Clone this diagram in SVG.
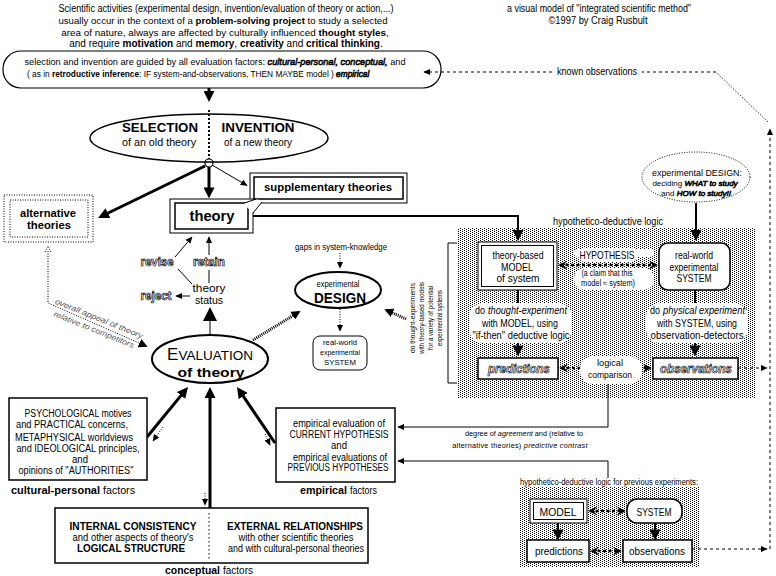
<svg xmlns="http://www.w3.org/2000/svg" width="776" height="576" viewBox="0 0 776 576">
<defs>
<pattern id="dots" width="4" height="2" patternUnits="userSpaceOnUse"><rect width="1" height="1" fill="#000"/><rect x="2" y="1" width="1" height="1" fill="#000"/></pattern>
<marker id="a" viewBox="0 0 10 10" refX="9" refY="5" markerWidth="7" markerHeight="7" markerUnits="userSpaceOnUse" orient="auto-start-reverse"><path d="M0,0.5 L10,5 L0,9.5 z"/></marker>
<marker id="am" viewBox="0 0 10 10" refX="8" refY="5" markerWidth="9" markerHeight="9" markerUnits="userSpaceOnUse" orient="auto-start-reverse"><path d="M0,0 L10,5 L0,10 z"/></marker>
<marker id="ab" viewBox="0 0 10 10" refX="6" refY="5" markerWidth="11" markerHeight="11" markerUnits="userSpaceOnUse" orient="auto-start-reverse"><path d="M0,0 L10,5 L0,10 z"/></marker>
<marker id="ax" viewBox="0 0 10 10" refX="6" refY="5" markerWidth="14" markerHeight="14" markerUnits="userSpaceOnUse" orient="auto"><path d="M0,0 L10,5 L0,10 z"/></marker>
<marker id="ac" viewBox="0 0 10 10" refX="8" refY="5" markerWidth="9" markerHeight="9" markerUnits="userSpaceOnUse" orient="auto-start-reverse"><path d="M0,0 L10,5 L0,10 L4,5 z"/></marker>
</defs>
<style>
text{font-family:"Liberation Sans",Arial,Helvetica,sans-serif;font-size:10px;text-anchor:middle;fill:#000}
.st{text-anchor:start}
.b{font-weight:bold}
.i{font-style:italic}
.o{fill:#fff;stroke:#000;stroke-width:0.7px}
.s8{font-size:8px}
.s9{font-size:9px}
.s105{font-size:10.5px}
.box{fill:#fff;stroke:#000;stroke-width:1.5}
.thin{fill:#fff;stroke:#000;stroke-width:1}
.ln{fill:none;stroke:#000;stroke-width:1}
.k2{fill:none;stroke:#000;stroke-width:2}
.k3{fill:none;stroke:#000;stroke-width:3}
.dash{fill:none;stroke:#000;stroke-width:1;stroke-dasharray:3 3}
.dot{fill:none;stroke:#000;stroke-width:1;stroke-dasharray:1 1.5}
.dd{fill:none;stroke:#000;stroke-width:2.5;stroke-dasharray:3 2.5}
.hatch{fill:none;stroke:#000;stroke-width:3;stroke-dasharray:1 1}
.blob{fill:#fff;stroke:none}
</style>
<rect width="776" height="576" fill="#fff"/>

<g id="intro-text">
<text x="226" y="12" textLength="335" lengthAdjust="spacingAndGlyphs">Scientific activities (experimental design, invention/evaluation of theory or action,...)</text>
<text x="223" y="24" style="font-size:9.6px">usually occur in the context of a <tspan class="b">problem-solving project</tspan> to study a selected</text>
<text x="225" y="36" style="font-size:9.9px">area of nature,  always are affected by culturally influenced <tspan class="b">thought styles</tspan>,</text>
<text x="226" y="47">and require <tspan class="b">motivation</tspan> and <tspan class="b">memory</tspan>, <tspan class="b">creativity</tspan> and <tspan class="b">critical thinking</tspan>.</text>
</g>

<g id="credit">
<text x="599" y="12" textLength="184" lengthAdjust="spacingAndGlyphs">a visual model of "integrated scientific method"</text>
<text x="598" y="24" textLength="99" lengthAdjust="spacingAndGlyphs">©1997 by Craig Rusbult</text>
</g>

<g id="hd-panel-bg">
<rect x="458" y="228" width="297" height="170" fill="url(#dots)" shape-rendering="crispEdges"/>
<rect x="520" y="487" width="180" height="80" fill="url(#dots)" shape-rendering="crispEdges"/>
</g>

<g id="connectors">
<line class="k3" x1="209" y1="88" x2="209" y2="97.6" marker-end="url(#ab)"/>
<line class="k3" x1="209" y1="167" x2="209" y2="194" marker-end="url(#ab)"/>
<line class="ln" stroke-width="1.5" x1="212" y1="165" x2="247" y2="185.5" marker-end="url(#a)"/>
<line class="k3" stroke-width="2.5" x1="205" y1="166" x2="102" y2="216" marker-end="url(#ab)"/>
<polyline class="k2" points="253,216 518,216 518,236.6" marker-end="url(#ab)"/>
<line class="k2" x1="696" y1="203" x2="696" y2="236.6" marker-end="url(#ab)"/>
<line class="ln" x1="175" y1="257" x2="192" y2="237" marker-end="url(#a)"/>
<line class="ln" x1="192" y1="284" x2="178" y2="269"/>
<line class="ln" x1="209" y1="270" x2="209" y2="283"/>
<line class="ln" x1="209" y1="255" x2="209" y2="237" marker-end="url(#a)"/>
<line class="ln" x1="190" y1="296" x2="176" y2="296" marker-end="url(#a)"/>
<line class="ln" stroke-width="4" x1="210" y1="336" x2="210" y2="312.6" marker-end="url(#ax)"/>
<polyline class="dot" points="48,251 48,303 146,346" marker-end="url(#am)"/>
<path class="dot" d="M45,252 L48,246 L51,252"/>
<line class="hatch" x1="253" y1="340" x2="299" y2="312" marker-end="url(#am)"/>
<line class="dot" stroke-width="1.5" x1="340" y1="253" x2="340" y2="268" marker-end="url(#a)"/>
<line class="dot" stroke-width="1.5" x1="340" y1="309" x2="340" y2="331" marker-end="url(#a)"/>
<line class="hatch" stroke-width="2" x1="406" y1="319" x2="386" y2="310" marker-end="url(#am)"/>
<line class="dd" x1="560" y1="265" x2="656" y2="265" marker-start="url(#ac)" marker-end="url(#ac)"/>
<line class="k2" x1="518" y1="290" x2="518" y2="352" marker-end="url(#ab)"/>
<line class="k2" x1="695" y1="290" x2="695" y2="352" marker-end="url(#ab)"/>
<line class="dd" x1="561" y1="368" x2="650" y2="368" marker-start="url(#ac)" marker-end="url(#ac)"/>
<line class="dash" x1="738" y1="368" x2="767" y2="368" marker-end="url(#a)"/>
<polyline class="ln" stroke-width="1.2" points="608,384 608,427 398,427" marker-end="url(#a)"/>
<polyline class="ln" stroke-width="1.2" points="608,478 608,461 398,461" marker-end="url(#a)"/>
<line class="dd" x1="590" y1="511" x2="624" y2="511" marker-start="url(#ac)" marker-end="url(#ac)"/>
<line class="k2" x1="558" y1="523" x2="558" y2="536" marker-end="url(#ab)"/>
<line class="k2" x1="655" y1="523" x2="655" y2="536" marker-end="url(#ab)"/>
<line class="dd" x1="592" y1="551" x2="620" y2="551" marker-start="url(#ac)" marker-end="url(#ac)"/>
<line class="dash" x1="692" y1="549" x2="767" y2="549" marker-end="url(#a)"/>
<line class="dash" x1="770" y1="549" x2="770" y2="129" marker-end="url(#a)"/>
<line class="dot" x1="768" y1="122" x2="716" y2="72"/>
<line class="dash" x1="716" y1="72" x2="642" y2="72"/>
<line class="dash" x1="552" y1="72" x2="424" y2="72" marker-end="url(#a)"/>
<text x="597" y="75" textLength="80" lengthAdjust="spacingAndGlyphs">known observations</text>
<line class="k3" stroke-width="2.5" x1="147" y1="437" x2="185.2" y2="390.4" marker-end="url(#ab)"/>
<line class="k3" stroke-width="2.5" x1="210" y1="508" x2="210" y2="391.4" marker-end="url(#ab)"/>
<line class="k3" stroke-width="2.5" x1="275" y1="443" x2="239.5" y2="390.6" marker-end="url(#ab)"/>
<line class="dot" x1="163" y1="427" x2="153" y2="441" marker-end="url(#a)"/>
<line class="dot" x1="205" y1="493" x2="205" y2="505" marker-end="url(#a)"/>
<line class="dot" x1="265" y1="434" x2="270" y2="445" marker-end="url(#a)"/>
<text class="s8 i" style="fill:#555" transform="translate(98,321) rotate(22)" textLength="94" lengthAdjust="spacingAndGlyphs">overall appeal of theory</text>
<text class="s8 i" style="fill:#555" transform="translate(93,332) rotate(22)" textLength="86" lengthAdjust="spacingAndGlyphs">relative to competitors</text>
<circle cx="209" cy="163" r="4" fill="#fff" stroke="#000" stroke-width="1.2"/>
</g>

<g id="guide-box">
<rect x="3" y="51" width="438" height="37" rx="18" fill="none" stroke="#000" stroke-width="1.2"/>
<text x="215" y="65" style="font-size:9.2px">selection and invention are guided by all evaluation factors:  <tspan class="i o">cultural-personal, conceptual,</tspan> and</text>
<text class="st" x="27" y="77" style="font-size:8.3px">( as in <tspan class="b">retroductive inference</tspan>:  IF system-and-observations, THEN MAYBE model )  <tspan class="i o">empirical</tspan></text>
</g>

<g id="selection-invention">
<ellipse cx="209" cy="138" rx="119" ry="24" fill="none" stroke="#000" stroke-width="1.5"/>
<line x1="209" y1="110" x2="209" y2="159" stroke="#000" stroke-width="2" stroke-dasharray="2 2"/>
<text class="b" style="font-size:13px" x="160" y="132" textLength="76" lengthAdjust="spacingAndGlyphs">SELECTION</text>
<text x="159" y="146" textLength="74" lengthAdjust="spacingAndGlyphs">of an old theory</text>
<text class="b" style="font-size:13px" x="258" y="132" textLength="73" lengthAdjust="spacingAndGlyphs">INVENTION</text>
<text x="258" y="146" textLength="68" lengthAdjust="spacingAndGlyphs">of a new theory</text>
</g>

<g id="supplementary-theories">
<rect x="250" y="173" width="157" height="30" class="thin"/>
<rect x="254" y="177" width="149" height="22" class="box"/>
<text class="b" x="328" y="191" textLength="128" lengthAdjust="spacingAndGlyphs">supplementary theories</text>
</g>

<g id="theory">
<rect x="170" y="199" width="83" height="34" class="thin"/>
<rect x="175" y="203" width="73" height="26" class="box"/>
<polygon points="243,203.5 257,199.5 262,202 253,213" fill="#fff"/>
<line class="ln" x1="243" y1="203.5" x2="256" y2="199"/>
<line class="ln" x1="253" y1="213" x2="262" y2="202"/>
<text class="b" style="font-size:15px" x="212" y="221" textLength="45" lengthAdjust="spacingAndGlyphs">theory</text>
</g>

<g id="alternative-theories">
<rect x="4" y="195" width="89" height="47" fill="#fff" stroke="#000" stroke-dasharray="1 1.5"/>
<rect x="10" y="200" width="78" height="37" fill="none" stroke="#000" stroke-dasharray="1 1.5"/>
<text class="b s105" x="48" y="217" textLength="56" lengthAdjust="spacingAndGlyphs">alternative</text>
<text class="b s105" x="49" y="229" textLength="44" lengthAdjust="spacingAndGlyphs">theories</text>
</g>

<g id="theory-status">
<text class="b o" style="font-size:12px" x="157" y="266" textLength="33" lengthAdjust="spacingAndGlyphs">revise</text>
<text class="b o" style="font-size:12px" x="209" y="266" textLength="32" lengthAdjust="spacingAndGlyphs">retain</text>
<text class="b o" style="font-size:12px" x="156" y="300" textLength="31" lengthAdjust="spacingAndGlyphs">reject</text>
<text class="s105" x="209" y="292" textLength="33" lengthAdjust="spacingAndGlyphs">theory</text>
<text class="s105" x="209" y="304" textLength="28" lengthAdjust="spacingAndGlyphs">status</text>
</g>

<g id="evaluation">
<ellipse cx="210" cy="359" rx="58" ry="24" fill="#fff" stroke="#000" stroke-width="2"/>
<text x="210" y="360"><tspan style="font-size:17px">E</tspan><tspan style="font-size:13.5px">VALUATION</tspan></text>
<text class="b" style="font-size:13px" x="211" y="377" textLength="67" lengthAdjust="spacingAndGlyphs">of theory</text>
</g>

<g id="gaps">
<text class="s9" x="341" y="250" textLength="92" lengthAdjust="spacingAndGlyphs">gaps in system-knowledge</text>
</g>

<g id="design">
<ellipse cx="338" cy="290" rx="43" ry="18" fill="#fff" stroke="#000" stroke-width="2"/>
<text class="s9" x="338" y="287" textLength="43" lengthAdjust="spacingAndGlyphs">experimental</text>
<text class="b" style="font-size:14px" x="340" y="303" textLength="52" lengthAdjust="spacingAndGlyphs">DESIGN</text>
</g>

<g id="design-system">
<rect x="313" y="336" width="54" height="34" rx="7" class="thin"/>
<text class="s8" x="340" y="345" textLength="34" lengthAdjust="spacingAndGlyphs">real-world</text>
<text class="s8" x="340" y="355" textLength="40" lengthAdjust="spacingAndGlyphs">experimental</text>
<text class="s8" x="340" y="365" textLength="32" lengthAdjust="spacingAndGlyphs">SYSTEM</text>
</g>

<g id="thought-experiments-label">
<text class="s8" transform="translate(415,318) rotate(-90)" textLength="70" lengthAdjust="spacingAndGlyphs">do thought-experiments</text>
<text class="s8" transform="translate(424,318) rotate(-90)" textLength="72" lengthAdjust="spacingAndGlyphs">with theory-based models</text>
<text class="s8" transform="translate(433,318) rotate(-90)" textLength="64" lengthAdjust="spacingAndGlyphs">for a variety of potential</text>
<text class="s8" transform="translate(442,318) rotate(-90)" textLength="56" lengthAdjust="spacingAndGlyphs">experimental systems</text>
<polyline class="ln" points="457,243 448,243 448,383 457,383"/>
</g>

<g id="design-cloud">
<ellipse cx="696" cy="177" rx="54" ry="25" fill="#fff" stroke="#000" stroke-dasharray="1 1.5"/>
<text class="s9" x="697" y="176" textLength="90" lengthAdjust="spacingAndGlyphs">experimental DESIGN:</text>
<text class="s8" x="695" y="186">deciding <tspan class="i o">WHAT to study</tspan></text>
<text class="s8" x="696" y="196">and <tspan class="i o">HOW to study!!</tspan></text>
</g>

<g id="hd-label">
<text x="608" y="225" textLength="110" lengthAdjust="spacingAndGlyphs">hypothetico-deductive logic</text>
</g>

<g id="model">
<rect x="478" y="242" width="79" height="48" class="thin"/>
<rect x="481.5" y="245.5" width="72" height="41" class="thin"/>
<text class="s105" x="518" y="259" textLength="51" lengthAdjust="spacingAndGlyphs">theory-based</text>
<text class="s105" x="517" y="271" textLength="32" lengthAdjust="spacingAndGlyphs">MODEL</text>
<text class="s105" x="518" y="282" textLength="43" lengthAdjust="spacingAndGlyphs">of system</text>
</g>

<g id="system">
<rect x="659" y="243" width="71" height="47" rx="9" class="box"/>
<text class="s105" x="694" y="259" textLength="38" lengthAdjust="spacingAndGlyphs">real-world</text>
<text class="s105" x="694" y="271" textLength="49" lengthAdjust="spacingAndGlyphs">experimental</text>
<text class="s105" x="694" y="282" textLength="35" lengthAdjust="spacingAndGlyphs">SYSTEM</text>
</g>

<g id="hypothesis">
<rect x="574" y="249" width="80" height="8" rx="4" class="blob"/>
<rect x="574" y="268" width="80" height="22" rx="10" class="blob"/>
<rect x="578" y="248" width="60" height="14" rx="7" class="blob"/>
<text class="s105" x="607" y="259" textLength="55" lengthAdjust="spacingAndGlyphs">HYPOTHESIS</text>
<text style="font-size:8.5px" x="607" y="276" textLength="51" lengthAdjust="spacingAndGlyphs">(a claim that this</text>
<text style="font-size:8.5px" x="608" y="286" textLength="54" lengthAdjust="spacingAndGlyphs">model ≈ system)</text>
</g>

<g id="thought-experiment">
<rect x="469" y="303" width="103" height="40" rx="14" class="blob"/>
<text class="s105 st" x="475" y="314" textLength="10" lengthAdjust="spacingAndGlyphs">do</text>
<text class="s105 st i" x="488" y="314" textLength="79" lengthAdjust="spacingAndGlyphs">thought-experiment</text>
<text class="s105" x="520" y="327" textLength="76" lengthAdjust="spacingAndGlyphs">with MODEL, using</text>
<text class="s105" x="521" y="339" textLength="97" lengthAdjust="spacingAndGlyphs">"if-then" deductive logic</text>
</g>

<g id="physical-experiment">
<rect x="646" y="303" width="102" height="40" rx="14" class="blob"/>
<text class="s105 st" x="650" y="314" textLength="10" lengthAdjust="spacingAndGlyphs">do</text>
<text class="s105 st i" x="663" y="314" textLength="82" lengthAdjust="spacingAndGlyphs">physical experiment</text>
<text class="s105" x="697" y="327" textLength="80" lengthAdjust="spacingAndGlyphs">with SYSTEM, using</text>
<text class="s105" x="697" y="339" textLength="93" lengthAdjust="spacingAndGlyphs">observation-detectors</text>
</g>

<g id="predictions">
<rect x="478" y="358" width="80" height="21" class="box"/>
<text class="b i o" style="font-size:13px" x="519" y="373" textLength="62" lengthAdjust="spacingAndGlyphs">predictions</text>
</g>

<g id="observations">
<rect x="653" y="358" width="85" height="21" class="box"/>
<text class="b i o" style="font-size:13px" x="696" y="373" textLength="72" lengthAdjust="spacingAndGlyphs">observations</text>
</g>

<g id="logical-comparison">
<rect x="580" y="356" width="62" height="28" rx="13" class="blob"/>
<text class="s9" x="610" y="366" textLength="26" lengthAdjust="spacingAndGlyphs">logical</text>
<text class="s9" x="610" y="378" textLength="44" lengthAdjust="spacingAndGlyphs">comparison</text>
</g>

<g id="agreement-label">
<text x="524" y="436" style="font-size:7.3px">degree of <tspan class="i">agreement</tspan> and (relative to</text>
<text x="520" y="448" style="font-size:7.3px;letter-spacing:0.25px">alternative theories) <tspan class="i">predictive contrast</tspan></text>
</g>

<g id="previous-experiments">
<text style="font-size:8.5px" x="609" y="485" textLength="178" lengthAdjust="spacingAndGlyphs">hypothetico-deductive logic for previous experiments:</text>
<rect x="530" y="499" width="57" height="24" class="thin"/>
<rect x="533.5" y="502.5" width="50" height="17" class="thin"/>
<text class="s105" x="558" y="516" textLength="37" lengthAdjust="spacingAndGlyphs">MODEL</text>
<rect x="627" y="499" width="55" height="24" rx="10" class="box"/>
<text class="s105" x="654" y="516" textLength="35" lengthAdjust="spacingAndGlyphs">SYSTEM</text>
<rect x="527" y="540" width="62" height="22" class="box"/>
<text class="s105" x="559" y="555" textLength="48" lengthAdjust="spacingAndGlyphs">predictions</text>
<rect x="623" y="540" width="69" height="22" class="box"/>
<text class="s105" x="657" y="555" textLength="56" lengthAdjust="spacingAndGlyphs">observations</text>
</g>

<g id="cultural-personal">
<rect x="9" y="398" width="138" height="82" class="box" stroke-width="2"/>
<text x="78" y="417" textLength="107" lengthAdjust="spacingAndGlyphs">PSYCHOLOGICAL motives</text>
<text x="72" y="428" textLength="112" lengthAdjust="spacingAndGlyphs">and PRACTICAL concerns,</text>
<text x="74" y="441" textLength="118" lengthAdjust="spacingAndGlyphs">METAPHYSICAL worldviews</text>
<text x="78" y="452" textLength="123" lengthAdjust="spacingAndGlyphs">and IDEOLOGICAL principles,</text>
<text x="80" y="463" textLength="16" lengthAdjust="spacingAndGlyphs">and</text>
<text x="76" y="474" textLength="115" lengthAdjust="spacingAndGlyphs">opinions of "AUTHORITIES"</text>
<text class="st b" x="11" y="494" textLength="89" lengthAdjust="spacingAndGlyphs">cultural-personal</text>
<text class="st" x="103" y="494" textLength="32" lengthAdjust="spacingAndGlyphs">factors</text>
</g>

<g id="empirical">
<rect x="276" y="408" width="119" height="74" class="box" stroke-width="2"/>
<text x="339" y="427" textLength="92" lengthAdjust="spacingAndGlyphs">empirical  evaluation of</text>
<text x="339" y="438" textLength="99" lengthAdjust="spacingAndGlyphs">CURRENT HYPOTHESIS</text>
<text x="339" y="449" textLength="16" lengthAdjust="spacingAndGlyphs">and</text>
<text x="340" y="461" textLength="94" lengthAdjust="spacingAndGlyphs">empirical evaluations of</text>
<text x="338" y="471" textLength="101" lengthAdjust="spacingAndGlyphs">PREVIOUS HYPOTHESES</text>
<text class="st b" x="300" y="494" textLength="47" lengthAdjust="spacingAndGlyphs">empirical</text>
<text class="st" x="350" y="494" textLength="27" lengthAdjust="spacingAndGlyphs">factors</text>
</g>

<g id="conceptual">
<rect x="55" y="508" width="313" height="55" class="box" stroke-width="2"/>
<line x1="209" y1="513" x2="209" y2="560" stroke="#000" stroke-width="1" stroke-dasharray="1.5 2.5"/>
<text class="b" x="133" y="530" textLength="127" lengthAdjust="spacingAndGlyphs">INTERNAL CONSISTENCY</text>
<text x="133" y="541" textLength="121" lengthAdjust="spacingAndGlyphs">and other aspects of theory's</text>
<text class="b" x="131" y="552" textLength="108" lengthAdjust="spacingAndGlyphs">LOGICAL STRUCTURE</text>
<text class="b" x="295" y="530" textLength="136" lengthAdjust="spacingAndGlyphs">EXTERNAL RELATIONSHIPS</text>
<text x="296" y="541" textLength="115" lengthAdjust="spacingAndGlyphs">with other scientific theories</text>
<text x="296" y="552" textLength="136" lengthAdjust="spacingAndGlyphs">and with cultural-personal theories</text>
<text class="st b" x="165" y="574" textLength="55" lengthAdjust="spacingAndGlyphs">conceptual</text>
<text class="st" x="223" y="574" textLength="30" lengthAdjust="spacingAndGlyphs">factors</text>
</g>
</svg>
